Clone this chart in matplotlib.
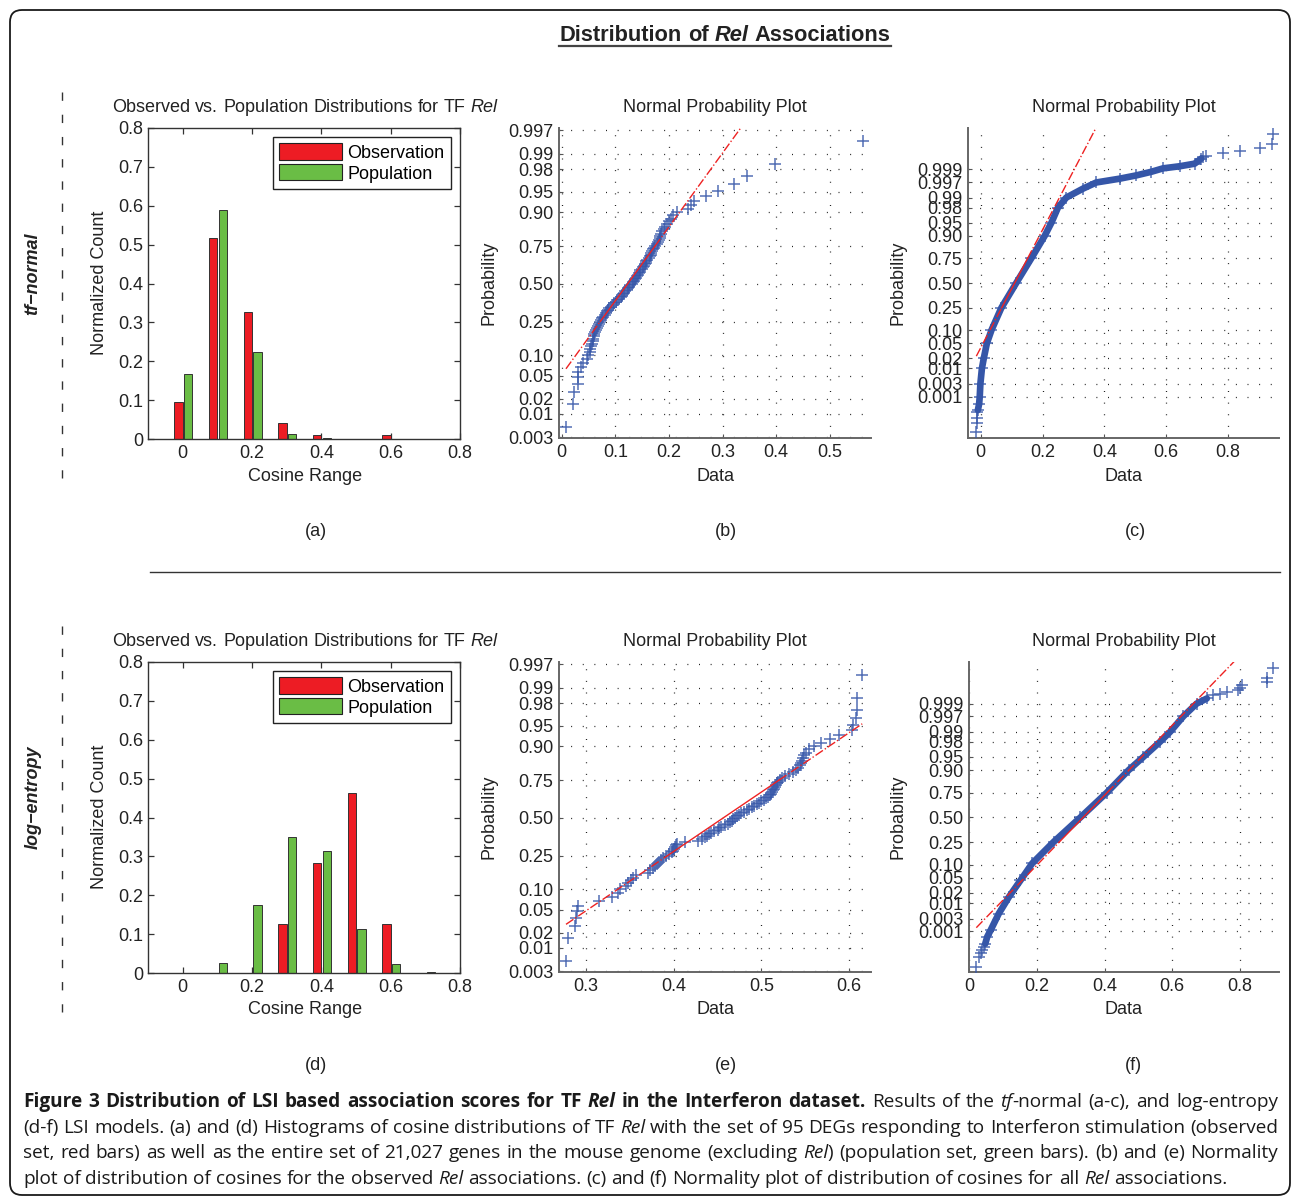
import matplotlib
matplotlib.use('Agg')
import matplotlib.pyplot as plt
import numpy as np
from matplotlib.patches import FancyBboxPatch, Patch
from matplotlib.lines import Line2D
from matplotlib import font_manager

# ---------------- data ----------------
bin_centers = [0.0, 0.1, 0.2, 0.3, 0.4, 0.5, 0.6, 0.7]
a_obs = [0.095, 0.516, 0.326, 0.042, 0.011, 0.0, 0.011, 0.0]
a_pop = [0.168, 0.588, 0.225, 0.014, 0.003, 0.001, 0.0005, 0.0002]
d_obs = [0.0, 0.0, 0.0, 0.126, 0.284, 0.463, 0.126, 0.0]
d_pop = [0.0005, 0.027, 0.174, 0.349, 0.313, 0.114, 0.024, 0.002]

# observed cosines (95 DEGs), sorted, tf-normal model
b_obs = [0.008, 0.0217, 0.023, 0.030, 0.0305, 0.031, 0.036, 0.040, 0.047, 0.050,
         0.052, 0.053, 0.055, 0.057, 0.058, 0.059, 0.060, 0.061, 0.063, 0.064,
         0.065, 0.067, 0.069, 0.071, 0.073, 0.076, 0.078, 0.080, 0.082, 0.084,
         0.086, 0.089, 0.092, 0.095, 0.098, 0.101, 0.104, 0.107, 0.110, 0.112,
         0.114, 0.116, 0.118, 0.121, 0.124, 0.126, 0.128, 0.131, 0.133, 0.135,
         0.137, 0.139, 0.141, 0.143, 0.145, 0.146, 0.147, 0.149, 0.151, 0.153,
         0.155, 0.157, 0.158, 0.160, 0.162, 0.164, 0.166, 0.167, 0.169, 0.171,
         0.173, 0.175, 0.177, 0.179, 0.181, 0.183, 0.184, 0.186, 0.188, 0.190,
         0.193, 0.196, 0.200, 0.203, 0.208, 0.216, 0.236, 0.241, 0.247, 0.269,
         0.292, 0.321, 0.345, 0.398, 0.562]
# observed cosines (95 DEGs), sorted, log-entropy model
e_obs = [0.277, 0.279, 0.287, 0.288, 0.290, 0.291, 0.315, 0.330, 0.336, 0.339,
         0.346, 0.348, 0.351, 0.354, 0.357, 0.370, 0.373, 0.376, 0.378, 0.381,
         0.383, 0.385, 0.388, 0.391, 0.395, 0.398, 0.399, 0.400, 0.401, 0.402,
         0.404, 0.413, 0.428, 0.432, 0.436, 0.438, 0.440, 0.443, 0.446, 0.4505,
         0.451, 0.454, 0.458, 0.462, 0.464, 0.466, 0.468, 0.470, 0.472, 0.474,
         0.477, 0.480, 0.483, 0.486, 0.489, 0.492, 0.495, 0.497, 0.500, 0.503,
         0.505, 0.507, 0.510, 0.511, 0.512, 0.513, 0.514, 0.516, 0.517, 0.518,
         0.519, 0.521, 0.524, 0.527, 0.532, 0.536, 0.539, 0.542, 0.544, 0.545,
         0.546, 0.547, 0.548, 0.551, 0.554, 0.560, 0.568, 0.578, 0.589, 0.603,
         0.605, 0.608, 0.609, 0.609, 0.615]

# all 21,027 genes: dense body of the normal probability plot (data, probability)
c_band_x = [-0.009, -0.005, -0.003, -0.001, 0.004, 0.010, 0.020, 0.035, 0.067, 0.115,
            0.164, 0.207, 0.229, 0.250, 0.277, 0.331, 0.374, 0.450, 0.503, 0.552,
            0.590, 0.644, 0.692, 0.714]
c_band_p = [0.00027, 0.0005, 0.001, 0.003, 0.01, 0.02, 0.05, 0.10, 0.25, 0.50,
            0.75, 0.90, 0.95, 0.98, 0.99, 0.9949, 0.9969, 0.99775, 0.9983, 0.99877,
            0.9991, 0.99926, 0.99942, 0.99965]
c_tail_x = [-0.014, -0.012, -0.012, -0.013, 0.719, 0.730, 0.784, 0.840, 0.902, 0.943, 0.946]
c_tail_p = [0.0000235, 0.000072, 0.00012, 0.00023, 0.99969, 0.99972, 0.99979, 0.99983,
            0.99988, 0.999925, 0.9999765]
c_q25, c_q75 = 0.068, 0.152

f_band_x = [0.048, 0.054, 0.064, 0.088, 0.118, 0.152, 0.1865, 0.250, 0.329, 0.407,
            0.471, 0.515, 0.564, 0.594, 0.633, 0.672, 0.702]
f_band_p = [0.0003, 0.0006, 0.0011, 0.0045, 0.0154, 0.0436, 0.1056, 0.253, 0.50, 0.75,
            0.90, 0.95, 0.98, 0.99, 0.997, 0.999, 0.99938]
f_tail_x = [0.0216, 0.0294, 0.034, 0.039, 0.044, 0.7215, 0.741, 0.761, 0.795, 0.800,
            0.805, 0.8785, 0.880, 0.896]
f_tail_p = [0.0000235, 0.000072, 0.00012, 0.000165, 0.00021, 0.99955, 0.99961, 0.99968,
            0.99974, 0.99979, 0.99983, 0.99988, 0.999925, 0.9999765]
f_q25, f_q75 = 0.266, 0.408

p_ticks_small = [0.003, 0.01, 0.02, 0.05, 0.10, 0.25, 0.50, 0.75, 0.90, 0.95, 0.98, 0.99, 0.997]
p_labels_small = ['0.003', '0.01', '0.02', '0.05', '0.10', '0.25', '0.50', '0.75', '0.90',
                  '0.95', '0.98', '0.99', '0.997']
p_ticks_big = [0.001, 0.003, 0.01, 0.02, 0.05, 0.10, 0.25, 0.50, 0.75, 0.90, 0.95, 0.98,
               0.99, 0.997, 0.999]
p_labels_big = ['0.001', '0.003', '0.01', '0.02', '0.05', '0.10', '0.25', '0.50', '0.75',
                '0.90', '0.95', '0.98', '0.99', '0.997', '0.999']

# ---------------- helpers ----------------
def norm_ppf(p):
    p = np.asarray(p, float)
    a = [-3.969683028665376e+01, 2.209460984245205e+02, -2.759285104469687e+02,
         1.383577518672690e+02, -3.066479806614716e+01, 2.506628277459239e+00]
    b = [-5.447609879822406e+01, 1.615858368580409e+02, -1.556989798598866e+02,
         6.680131188771972e+01, -1.328068155288572e+01]
    c = [-7.784894002430293e-03, -3.223964580411365e-01, -2.400758277161838e+00,
         -2.549732539343734e+00, 4.374664141464968e+00, 2.938163982698783e+00]
    d = [7.784695709041462e-03, 3.224671290700398e-01, 2.445134137142996e+00,
         3.754408661907416e+00]
    plow = 0.02425
    out = np.empty_like(p)
    lo = p < plow
    hi = p > 1 - plow
    mid = ~(lo | hi)
    q = np.sqrt(-2 * np.log(p[lo]))
    out[lo] = (((((c[0]*q+c[1])*q+c[2])*q+c[3])*q+c[4])*q+c[5]) / ((((d[0]*q+d[1])*q+d[2])*q+d[3])*q+1)
    q = np.sqrt(-2 * np.log(1 - p[hi]))
    out[hi] = -(((((c[0]*q+c[1])*q+c[2])*q+c[3])*q+c[4])*q+c[5]) / ((((d[0]*q+d[1])*q+d[2])*q+d[3])*q+1)
    q = p[mid] - 0.5
    r = q * q
    out[mid] = (((((a[0]*r+a[1])*r+a[2])*r+a[3])*r+a[4])*r+a[5])*q / (((((b[0]*r+b[1])*r+b[2])*r+b[3])*r+b[4])*r+1)
    return out

W, H = 1293, 1200
fig = plt.figure(figsize=(W / 100, H / 100), dpi=100)
plt.rcParams['font.family'] = ['Liberation Sans', 'DejaVu Sans']
renderer = fig.canvas.get_renderer()

TXT = '#222222'
RED = '#ed1c24'
GREEN = '#6abd45'
BLUE = '#3556a8'
FS = 13


def fx(x):
    return x / W


def fy(y):
    return 1 - y / H


def add_ax(x0, y0, x1, y1):
    return fig.add_axes([x0 / W, 1 - y1 / H, (x1 - x0) / W, (y1 - y0) / H])


def font_ok(name):
    try:
        font_manager.findfont(font_manager.FontProperties(family=name), fallback_to_default=False)
        return True
    except Exception:
        return False


def twidth(txt, size, family, weight='normal', style='normal'):
    t = fig.text(0, 0, txt, fontsize=size, family=family, weight=weight, style=style)
    w = t.get_window_extent(renderer).width
    t.remove()
    return w


def split_words(segs):
    words, cur = [], []
    for text, wt, st in segs:
        parts = text.split(' ')
        for k, part in enumerate(parts):
            if k > 0 and cur:
                words.append(cur)
                cur = []
            if part:
                cur.append((part, wt, st))
    if cur:
        words.append(cur)
    return words


def rich_line(segs, x, ybase, size, family, ha='left', justify=None, color=TXT, draw=True):
    words = split_words(segs)
    widths = [[twidth(t, size, family, wt, st) for (t, wt, st) in w] for w in words]
    ww = [sum(v) for v in widths]
    sp = twidth('a a', size, family) - twidth('aa', size, family)
    total = sum(ww) + sp * (len(words) - 1)
    gap = sp
    if justify is not None and len(words) > 1:
        gap = (justify - sum(ww)) / (len(words) - 1)
        total = justify
    x0 = x - total / 2 if ha == 'center' else x
    if not draw:
        return total
    cur = x0
    for w, wv in zip(words, widths):
        for (t, wt, st), wpx in zip(w, wv):
            fig.text(fx(cur), fy(ybase), t, fontsize=size, family=family, weight=wt,
                     style=st, va='baseline', ha='left', color=color)
            cur += wpx
        cur += gap
    return x0, x0 + total


# ---------------- frame & decorations ----------------
frame = FancyBboxPatch((0.10, 0.05), 12.80, 11.85, boxstyle='round,pad=0,rounding_size=0.12',
                       transform=fig.dpi_scale_trans, fill=False, ec='#1a1a1a', lw=1.3)
fig.add_artist(frame)

# main title, bold, underlined
tsegs = [('Distribution of ', 'bold', 'normal'), ('Rel', 'bold', 'italic'),
         (' Associations', 'bold', 'normal')]
nat = rich_line(tsegs, 0, 0, 15, ['Liberation Sans'], draw=False)
tsize = 15 * 333 / nat
x0, x1 = rich_line(tsegs, 725, 41, tsize, ['Liberation Sans'], ha='center')
fig.add_artist(Line2D([fx(x0), fx(x1)], [fy(46), fy(46)], transform=fig.transFigure,
                      color='#444444', lw=1.6))

# side labels and dashed guides
fig.text(fx(33), fy(274), 'tf\u2212normal', rotation=90, fontsize=FS, weight='bold',
         style='italic', ha='center', va='center', color=TXT)
fig.text(fx(33), fy(797), 'log\u2212entropy', rotation=90, fontsize=FS, weight='bold',
         style='italic', ha='center', va='center', color=TXT)
for ya, yb in [(92, 478), (626, 1012)]:
    fig.add_artist(Line2D([fx(62), fx(62)], [fy(ya), fy(yb)], transform=fig.transFigure,
                          color='#333333', lw=1.0, dashes=(6, 10)))
fig.add_artist(Line2D([fx(150), fx(1280)], [fy(572), fy(572)], transform=fig.transFigure,
                      color='#333333', lw=1.0))

# ---------------- histograms ----------------
def hist_panel(y0, obs, pop, letter):
    ax = add_ax(148, y0, 460, y0 + 311)
    xc = np.array(bin_centers)
    ax.bar(xc - 0.012, obs, width=0.024, color=RED, edgecolor='#333333', lw=0.7, zorder=2)
    ax.bar(xc + 0.016, pop, width=0.024, color=GREEN, edgecolor='#333333', lw=0.7, zorder=2)
    ax.set_xlim(-0.1, 0.8)
    ax.set_ylim(0, 0.8)
    ax.set_xticks([0, 0.2, 0.4, 0.6, 0.8])
    ax.set_xticklabels(['0', '0.2', '0.4', '0.6', '0.8'])
    ax.set_yticks(np.arange(9) / 10)
    ax.set_yticklabels(['0', '0.1', '0.2', '0.3', '0.4', '0.5', '0.6', '0.7', '0.8'])
    ax.tick_params(direction='in', top=True, right=True, length=4, width=0.9,
                   labelsize=FS, colors='#333333', labelcolor=TXT)
    ax.tick_params(axis='x', pad=4)
    ax.tick_params(axis='y', pad=3.5)
    for s in ax.spines.values():
        s.set_color('#333333')
        s.set_linewidth(1.0)
    leg = ax.legend(handles=[Patch(fc=RED, ec='#222222', lw=0.8, label='Observation'),
                             Patch(fc=GREEN, ec='#222222', lw=0.8, label='Population')],
                    loc='upper right', fontsize=FS, frameon=True, fancybox=False,
                    edgecolor='#222222', framealpha=1, borderaxespad=0.5,
                    handlelength=3.5, handleheight=1.0, handletextpad=0.3,
                    labelspacing=0.15, borderpad=0.35)
    leg.get_frame().set_linewidth(1.0)
    rich_line([('Observed vs. Population Distributions for TF ', 'normal', 'normal'),
               ('Rel', 'normal', 'italic')], 305, y0 - 16, FS, ['Liberation Sans'], ha='center')
    fig.text(fx(305), fy(y0 + 348), 'Cosine Range', fontsize=FS, ha='center', va='center', color=TXT)
    fig.text(fx(100), fy(y0 + 155), 'Normalized Count', fontsize=FS, rotation=90,
             ha='center', va='center', color=TXT)
    fig.text(fx(316), fy(y0 + 404), letter, fontsize=FS, ha='center', va='center', color=TXT)
    return ax


hist_panel(128, a_obs, a_pop, '(a)')
hist_panel(662, d_obs, d_pop, '(d)')

# ---------------- normal probability plots ----------------
def prob_frame(ax, xlim, ylim, pt, pl, xt, xl):
    ax.set_xlim(*xlim)
    ax.set_ylim(*ylim)
    ax.set_yticks(norm_ppf(pt))
    ax.set_yticklabels(pl)
    ax.set_xticks(xt)
    ax.set_xticklabels(xl)
    ax.grid(True, color='#222222', lw=0.9, linestyle=(0, (0.8, 8.5)))
    ax.set_axisbelow(True)
    for s in ['top', 'right']:
        ax.spines[s].set_visible(False)
    for s in ['left', 'bottom']:
        ax.spines[s].set_color('#666666')
        ax.spines[s].set_linewidth(1.4)
    ax.tick_params(direction='in', length=3, width=0.8, labelsize=FS, colors='#555555',
                   labelcolor=TXT)
    ax.tick_params(axis='x', pad=4)
    ax.tick_params(axis='y', pad=4)


def ref_line(ax, q25, q75, xmin, xmax):
    z25, z75 = norm_ppf([0.25, 0.75])
    slope = (z75 - z25) / (q75 - q25)
    f = lambda x: z25 + slope * (np.asarray(x) - q25)
    ax.plot([q25, q75], f([q25, q75]), '-', color='#ee2222', lw=1.0, zorder=5)
    ax.plot([xmin, q25], f([xmin, q25]), '-.', color='#ee2222', lw=1.0, zorder=5)
    ax.plot([q75, xmax], f([q75, xmax]), '-.', color='#ee2222', lw=1.0, zorder=5)


def labels(cx, y0, letter, ylab_x):
    fig.text(fx(cx), fy(y0 - 21), 'Normal Probability Plot', fontsize=FS, ha='center',
             va='center', color=TXT)
    fig.text(fx(cx), fy(y0 + 348), 'Data', fontsize=FS, ha='center', va='center', color=TXT)
    fig.text(fx(ylab_x), fy(y0 + 155), 'Probability', fontsize=FS, rotation=90,
             ha='center', va='center', color=TXT)
    fig.text(fx(letter[1]), fy(y0 + 404), letter[0], fontsize=FS, ha='center', va='center', color=TXT)


def obs_panel(y0, data, xlim, xt, xl, letter):
    ax = add_ax(559, y0, 871, y0 + 310)
    x = np.array(data)
    n = len(x)
    z = norm_ppf((np.arange(1, n + 1) - 0.5) / n)
    ax.plot(x, z, '+', color=BLUE, ms=8.5, mew=1.1, alpha=0.85, zorder=3)
    q25, q75 = np.percentile(x, [25, 75])
    ref_line(ax, q25, q75, x.min(), x.max())
    prob_frame(ax, xlim, (-2.76, 2.79), p_ticks_small, p_labels_small, xt, xl)
    labels(715, y0, letter, 489)


def all_panel(x0, x1, y0, bx, bp, tx, tp, q25, q75, xlim, ylim, letter):
    ax = add_ax(x0, y0, x1, y0 + 310)
    bz = norm_ppf(bp)
    tz = norm_ppf(tp)
    ax.plot(bx, bz, '-', color=BLUE, lw=4.8, solid_capstyle='round', solid_joinstyle='round',
            zorder=3)
    ax.plot(bx, bz, '+', color=BLUE, ms=8.5, mew=1.1, alpha=0.85, zorder=3)
    ax.plot(tx, tz, '+', color=BLUE, ms=8.5, mew=1.1, alpha=0.85, zorder=3)
    allx = np.concatenate([bx, tx])
    ref_line(ax, q25, q75, allx.min(), allx.max())
    prob_frame(ax, xlim, ylim, p_ticks_big, p_labels_big, [0, 0.2, 0.4, 0.6, 0.8],
               ['0', '0.2', '0.4', '0.6', '0.8'])
    labels((x0 + x1) / 2, y0, letter, 898)


obs_panel(128, b_obs, (-0.005, 0.577), [0, 0.1, 0.2, 0.3, 0.4, 0.5],
          ['0', '0.1', '0.2', '0.3', '0.4', '0.5'], ('(b)', 726))
obs_panel(662, e_obs, (0.269, 0.625), [0.3, 0.4, 0.5, 0.6],
          ['0.3', '0.4', '0.5', '0.6'], ('(e)', 726))
all_panel(968, 1279, 128, c_band_x, c_band_p, c_tail_x, c_tail_p, c_q25, c_q75,
          (-0.041, 0.965), (-4.22, 4.22), ('(c)', 1135))
all_panel(969, 1279, 662, f_band_x, f_band_p, f_tail_x, f_tail_p, f_q25, f_q75,
          (0.0, 0.915), (-4.2, 4.22), ('(f)', 1133))

# ---------------- caption ----------------
cap_font = ['Open Sans'] if font_ok('Open Sans') else ['Liberation Sans']
B, I, N = ('bold', 'normal'), ('normal', 'italic'), ('normal', 'normal')
BI = ('bold', 'italic')
cap_lines = [
    [('Figure 3 Distribution of LSI based association scores for TF ',) + B, ('Rel',) + BI,
     (' in the Interferon dataset.',) + B, (' Results of the ',) + N, ('tf',) + I,
     ('-normal (a-c), and log-entropy',) + N],
    [('(d-f) LSI models. (a) and (d) Histograms of cosine distributions of TF ',) + N,
     ('Rel',) + I, (' with the set of 95 DEGs responding to Interferon stimulation (observed',) + N],
    [('set, red bars) as well as the entire set of 21,027 genes in the mouse genome (excluding ',) + N,
     ('Rel',) + I, (') (population set, green bars). (b) and (e) Normality',) + N],
    [('plot of distribution of cosines for the observed ',) + N, ('Rel',) + I,
     (' associations. (c) and (f) Normality plot of distribution of cosines for all ',) + N,
     ('Rel',) + I, (' associations.',) + N],
]
nat2 = rich_line(cap_lines[1], 0, 0, 12, cap_font, draw=False)
csize = min(14.0, max(10.5, 12 * 1248 / nat2))
cap_base = [1107, 1133, 1158, 1184]
for k, segs in enumerate(cap_lines):
    rich_line(segs, 23, cap_base[k], csize, cap_font,
              justify=(1255 if k < 3 else None), color='#1a1a1a')

fig.savefig('out.png', dpi=100)
